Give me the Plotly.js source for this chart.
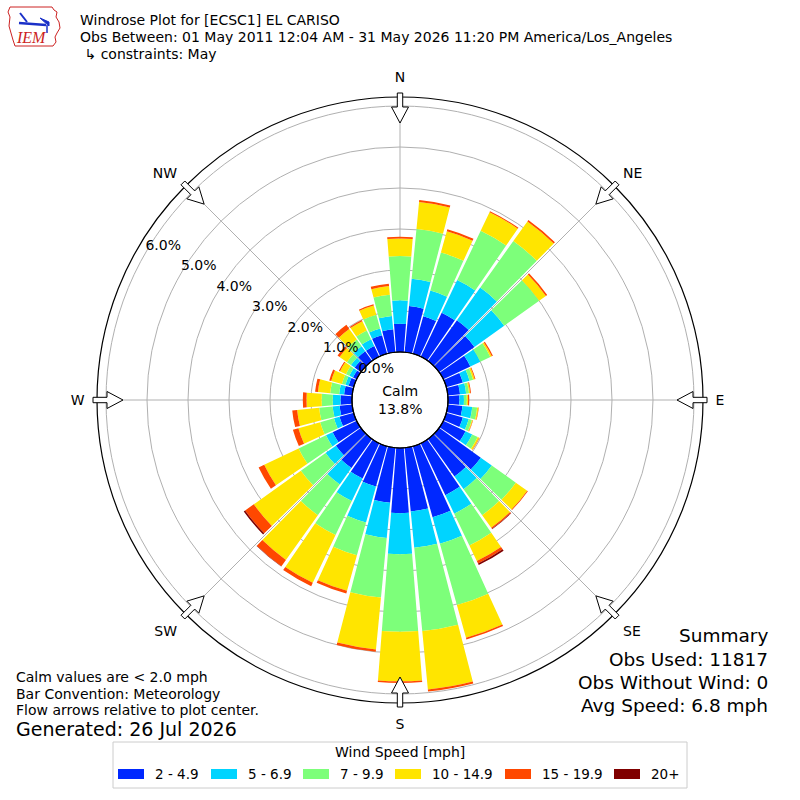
<!DOCTYPE html>
<html><head><meta charset="utf-8">
<script src="https://cdn.plot.ly/plotly-3.0.1.min.js"></script>
<style>html,body{margin:0;padding:0;background:#fff}#chart{width:800px;height:800px}</style>
</head><body><div id="chart"></div>
<script>
// ---------------- data ----------------
const directions = [0,10,20,30,40,50,60,70,80,90,100,110,120,130,140,150,160,170,
                    180,190,200,210,220,230,240,250,260,270,280,290,300,310,320,330,340,350];
const speedBins = ['2 - 4.9','5 - 6.9','7 - 9.9','10 - 14.9','15 - 19.9','20+'];
// frequency (%) per direction for each speed bin
const spd_2_4_9   = [0.69,1.13,0.95,1.19,1.22,1.06,0.73,0.42,0.30,0.28,0.36,0.42,0.60,1.25,1.12,1.40,1.80,1.56,
                     1.59,1.35,1.02,0.95,0.87,0.75,0.65,0.36,0.31,0.28,0.20,0.13,0.10,0.19,0.29,0.29,0.47,0.56];
const spd_5_6_9   = [0.57,0.67,0.65,0.88,0.98,0.89,0.27,0.17,0.15,0.11,0.24,0.15,0.18,0.33,0.38,0.50,0.67,0.89,
                     1.00,0.86,0.91,0.61,0.49,0.31,0.18,0.14,0.17,0.19,0.12,0.08,0.10,0.11,0.15,0.18,0.17,0.33];
const spd_7_9_9   = [1.08,1.22,0.96,1.33,1.39,1.05,0.27,0.09,0.07,0.07,0.12,0.08,0.15,0.72,0.78,0.86,1.55,2.04,
                     1.89,1.46,0.83,0.92,0.92,0.74,0.74,0.35,0.33,0.27,0.22,0.09,0.09,0.12,0.20,0.24,0.35,0.52];
const spd_10_14_9 = [0.43,0.66,0.54,0.50,0.59,0.20,0.04,0.04,0.03,0.03,0.03,0.02,0.04,0.34,0.38,0.42,0.83,1.43,
                     1.21,1.27,0.90,1.29,1.34,1.41,0.93,0.55,0.54,0.37,0.30,0.27,0.16,0.22,0.32,0.25,0.23,0.21];
const spd_15_19_9 = [0.04,0.05,0.05,0.03,0.04,0.04,0.03,0.02,0.02,0.03,0.01,0.01,0.01,0.02,0.03,0.07,0.04,0.05,
                     0.04,0.06,0.07,0.09,0.19,0.26,0.15,0.14,0.12,0.09,0.07,0.05,0.03,0.06,0.12,0.03,0.03,0.06];
const spd_20_plus = [0,0,0,0,0,0,0,0,0,0,0,0,0,0,0.01,0.04,0,0,
                     0,0,0,0,0.01,0.04,0,0,0,0,0,0,0,0,0,0,0,0];
const compassVals = [0,45,90,135,180,225,270,315];
const compassText = ['N','NE','E','SE','S','SW','W','NW'];
const radialTicks = [0,1,2,3,4,5,6];
const radialTickText = ['0.0%','1.0%','2.0%','3.0%','4.0%','5.0%','6.0%'];
const calmPct = 13.8;
const obsUsed = 11817, obsWithoutWind = 0, avgSpeed = 6.8;

// ---------------- styles ----------------
const FONT = 'DejaVu Sans, Verdana, sans-serif';
const binColors = ['#0028ff','#00d4ff','#7dff7a','#ffe500','#ff4800','#800000'];
const seriesList = [spd_2_4_9, spd_5_6_9, spd_7_9_9, spd_10_14_9, spd_15_19_9, spd_20_plus];

const W = 800, H = 800;
const CX = 400, CY = 400, R = 303, HOLE = 48, PX_PER_PCT = 41;
const X = px => px / W, Y = py => 1 - py / H;

const traces = seriesList.map((vals, i) => ({
  type: 'barpolar', name: speedBins[i], r: vals, theta: directions,
  width: 9, marker: {color: binColors[i], line: {width: 0}}, hoverinfo: 'skip'
}));
// radial tick labels drawn through the polar scale
traces.push({
  type:'scatterpolar', mode:'text', r: radialTicks, theta: radialTicks.map(() => 300),
  text: radialTickText, textposition:'top right', cliponaxis:false,
  textfont:{family:FONT, size:14, color:'black'}, hoverinfo:'skip', showlegend:false
});

const shapes = [];
// flow arrows at compass points
compassVals.forEach(a => {
  const t = a * Math.PI / 180;
  const ox = Math.sin(t), oy = -Math.cos(t), vx = Math.cos(t), vy = Math.sin(t);
  const pts = [[307,-2.7],[293,-2.7],[293,-8.5],[277,0],[293,8.5],[293,2.7],[307,2.7]];
  const d = pts.map((p, k) => {
    const x = CX + p[0]*ox + p[1]*vx, y = CY + p[0]*oy + p[1]*vy;
    return (k ? 'L' : 'M') + X(x).toFixed(5) + ',' + Y(y).toFixed(5);
  }).join(' ') + ' Z';
  shapes.push({type:'path', xref:'paper', yref:'paper', path:d, fillcolor:'white',
               line:{color:'black', width:1}, layer:'above'});
});
// calm circle border
shapes.push({type:'circle', xref:'paper', yref:'paper', x0:X(CX-HOLE), x1:X(CX+HOLE),
             y0:Y(CY+HOLE), y1:Y(CY-HOLE), line:{color:'black', width:1.2}, layer:'above'});

// IEM logo (simplified)
const logoPts = [[10,7],[52,7],[54,10],[57,12],[56,17],[59,22],[60,28],[57,33],[55,37],[56,42],[53,46],
                 [15,46],[13,40],[11,33],[9,26],[10,17],[8,12]];
shapes.push({type:'path', xref:'paper', yref:'paper',
  path: logoPts.map((p,k)=>(k?'L':'M')+X(p[0])+','+Y(p[1])).join(' ')+' Z',
  line:{color:'#cc2222', width:1}, layer:'above'});
shapes.push({type:'line', xref:'paper', yref:'paper', x0:X(19), y0:Y(23), x1:X(46), y1:Y(25),
  line:{color:'#1a30c8', width:2.5}});
shapes.push({type:'line', xref:'paper', yref:'paper', x0:X(20), y0:Y(13), x1:X(27), y1:Y(22),
  line:{color:'#1a30c8', width:2}});
shapes.push({type:'path', xref:'paper', yref:'paper',
  path:'M'+X(40)+','+Y(18)+' L'+X(49)+','+Y(22)+' L'+X(49)+','+Y(26)+' Z',
  fillcolor:'#1a30c8', line:{color:'#1a30c8', width:1}});
shapes.push({type:'line', xref:'paper', yref:'paper', x0:X(47), y0:Y(25), x1:X(47), y1:Y(33),
  line:{color:'#1a30c8', width:1.5}});

const ann = (txt, x, y, size, xa, extra) => Object.assign({
  text: txt, x: X(x), y: Y(y), xref:'paper', yref:'paper', xanchor: xa, yanchor:'middle',
  showarrow:false, font:{family:FONT, size:size, color:'black'}}, extra || {});

const annotations = [
  ann('Obs Between: 01 May 2011 12:04 AM - 31 May 2026 11:20 PM America/Los_Angeles', 78, 37, 14, 'left'),
  ann(' ↳ constraints: May', 78, 54, 14, 'left'),
  ann('Calm<br>' + calmPct.toFixed(1) + '%', CX, CY, 14, 'center'),
  ann('Calm values are < 2.0 mph', 14, 677, 14, 'left'),
  ann('Bar Convention: Meteorology', 14, 694, 14, 'left'),
  ann('Flow arrows relative to plot center.', 14, 710, 14, 'left'),
  ann('Generated: 26 Jul 2026', 14, 729, 19, 'left'),
  ann('Summary', 770, 635, 18.5, 'right'),
  ann('Obs Used: ' + obsUsed, 770, 659, 18.5, 'right'),
  ann('Obs Without Wind: ' + obsWithoutWind, 770, 682, 18.5, 'right'),
  ann('Avg Speed: ' + avgSpeed + ' mph', 770, 705, 18.5, 'right'),
  ann('<i>IEM</i>', 31, 37, 16, 'center', {font:{family:'Liberation Serif, serif', size:16, color:'#cc2222'}})
];

// legend (drawn as shapes + labels, following the reference layout)
shapes.push({type:'rect', xref:'paper', yref:'paper', x0:X(113), x1:X(687), y0:Y(788), y1:Y(742),
  line:{color:'#cccccc', width:1}, fillcolor:'white', layer:'above'});
annotations.push(ann('Wind Speed [mph]', 400, 752, 14, 'center'));
const legendPatchX = [118, 211, 303, 395, 505, 614];
speedBins.forEach((lab, i) => {
  const x0 = legendPatchX[i];
  shapes.push({type:'rect', xref:'paper', yref:'paper', x0:X(x0), x1:X(x0+26), y0:Y(779), y1:Y(769),
    fillcolor: binColors[i], line:{width:0}, layer:'above'});
  annotations.push(ann(lab, x0 + 35, 774, 13.5, 'left'));
});

const layout = {
  width: W, height: H, margin:{l:0, r:0, t:0, b:0}, paper_bgcolor:'white',
  font:{family:FONT, size:14, color:'black'},
  title:{text:'Windrose Plot for [ECSC1] EL CARISO',
         x: X(80), xref:'paper', xanchor:'left', y: Y(20), yref:'paper', yanchor:'middle',
         font:{family:FONT, size:14, color:'black'}},
  polar:{
    domain:{x:[X(CX-R), X(CX+R)], y:[Y(CY+R), Y(CY-R)]},
    hole: HOLE / R, bgcolor:'white', barmode:'stack',
    angularaxis:{direction:'clockwise', rotation:90, tickmode:'array', tickvals:compassVals,
      ticktext:compassText, showgrid:true, gridcolor:'#b0b0b0', gridwidth:1, showline:true,
      linecolor:'black', linewidth:1.2, ticks:'outside', ticklen:9, tickcolor:'rgba(0,0,0,0)',
      tickfont:{family:FONT, size:14}, layer:'above traces'},
    radialaxis:{range:[0, (R-HOLE)/PX_PER_PCT], tickmode:'array', tickvals:radialTicks,
      showticklabels:false, showline:false, ticks:'', gridcolor:'#b0b0b0',
      gridwidth:1, layer:'above traces', angle:150}
  },
  showlegend:false,
  shapes: shapes, annotations: annotations
};

Plotly.newPlot('chart', traces, layout, {staticPlot:true, displayModeBar:false});
</script></body></html>
